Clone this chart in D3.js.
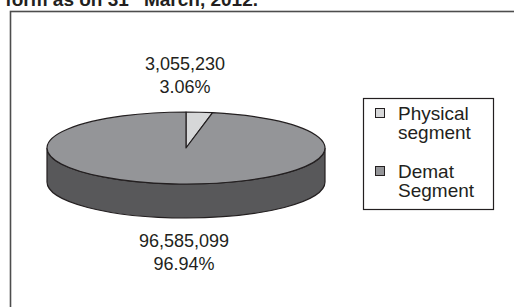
<!DOCTYPE html>
<html>
<head>
<meta charset="utf-8">
<script src="https://cdn.jsdelivr.net/npm/d3@7"></script>
<style>
  body { margin: 0; background: #fff; }
  svg { display: block; font-family: Arial, "Liberation Sans", sans-serif; }
</style>
</head>
<body>
<script>
// chart data
var segments = ["Physical segment", "Demat Segment"];
var legendLines = [["Physical", "segment"], ["Demat", "Segment"]];
var holdings = [3055230, 96585099];
var percents = ["3.06%", "96.94%"];

(function(){
  var width = 514, height = 307;
  var ink = "#231f20";

  var svg = d3.select("body").append("svg")
    .attr("width", width)
    .attr("height", height);

  // title, cropped at the top in the reference
  var title = svg.append("text")
    .attr("x", 258)
    .attr("y", 6)
    .attr("text-anchor", "end")
    .style("font-size", "19px")
    .style("font-weight", "bold")
    .style("fill", ink);
  title.append("tspan").text("form as on 31");
  title.append("tspan").attr("dy", -6).style("font-size", "11px").text("st");
  title.append("tspan").attr("dy", 6).text(" March, 2012.");

  // outer frame
  svg.append("rect")
    .attr("x", 10.5).attr("y", 11.5)
    .attr("width", 530).attr("height", 320)
    .attr("fill", "none")
    .attr("stroke", "#4d4d4d")
    .attr("stroke-width", 1.6);

  // pie geometry
  var cx = 186, cy = 148, rx = 139, ry = 36, depth = 34;
  var topColors = d3.scaleOrdinal().domain(segments).range(["#d6d7d8", "#949598"]);
  var sideColors = d3.scaleOrdinal().domain(segments).range(["#a8a9ab", "#58585a"]);

  var pie = d3.pie().sort(null).value(function(d){ return d; });
  var arcs = pie(holdings);

  function pt(a, dy){
    return [cx + rx * Math.sin(a), cy - ry * Math.cos(a) + (dy || 0)];
  }

  // front side walls
  var sides = svg.append("g");
  arcs.forEach(function(d, i){
    var s0 = Math.max(d.startAngle, Math.PI / 2),
        s1 = Math.min(d.endAngle, Math.PI * 3 / 2);
    if (s1 <= s0) return;
    var p0 = pt(s0), p1 = pt(s1), q0 = pt(s0, depth), q1 = pt(s1, depth);
    var large = (s1 - s0) > Math.PI ? 1 : 0;
    var p = "M" + p0 + " A" + rx + "," + ry + " 0 " + large + " 1 " + p1 +
            " L" + q1 + " A" + rx + "," + ry + " 0 " + large + " 0 " + q0 + " Z";
    sides.append("path")
      .attr("d", p)
      .attr("fill", sideColors(segments[i]))
      .attr("stroke", ink)
      .attr("stroke-width", 1.2);
  });

  // top face slices
  var tops = svg.append("g");
  arcs.forEach(function(d, i){
    var p0 = pt(d.startAngle), p1 = pt(d.endAngle);
    var large = (d.endAngle - d.startAngle) > Math.PI ? 1 : 0;
    var p = "M" + cx + "," + cy + " L" + p0 + " A" + rx + "," + ry + " 0 " + large + " 1 " + p1 + " Z";
    tops.append("path")
      .attr("d", p)
      .attr("fill", topColors(segments[i]))
      .attr("stroke", ink)
      .attr("stroke-width", 1.2)
      .attr("stroke-linejoin", "round");
  });

  // data labels
  var fmt = d3.format(",");
  var labelPos = [[185, 70], [184, 247]];
  arcs.forEach(function(d, i){
    var t = svg.append("text")
      .attr("x", labelPos[i][0])
      .attr("y", labelPos[i][1])
      .attr("text-anchor", "middle")
      .style("font-size", "18px")
      .style("fill", ink);
    t.append("tspan").text(fmt(holdings[i]));
    t.append("tspan").attr("x", labelPos[i][0]).attr("dy", 23).text(percents[i]);
  });

  // legend
  var legend = svg.append("g");
  legend.append("rect")
    .attr("x", 363.5).attr("y", 98.5)
    .attr("width", 130).attr("height", 111)
    .attr("fill", "#fff")
    .attr("stroke", ink)
    .attr("stroke-width", 1.2);

  var items = legend.selectAll(".item")
    .data(segments)
    .enter()
    .append("g")
    .attr("class", "item")
    .attr("transform", function(d, i){ return "translate(0," + (i * 58) + ")"; });

  items.append("rect")
    .attr("x", 375.5).attr("y", 108.5)
    .attr("width", 9).attr("height", 9)
    .attr("fill", function(d){ return topColors(d); })
    .attr("stroke", ink)
    .attr("stroke-width", 1);

  items.each(function(d, i){
    var t = d3.select(this).append("text")
      .attr("x", 398).attr("y", 120)
      .style("font-size", "19px")
      .style("fill", ink);
    t.append("tspan").text(legendLines[i][0]);
    t.append("tspan").attr("x", 398).attr("dy", 19).text(legendLines[i][1]);
  });
})();
</script>
</body>
</html>
